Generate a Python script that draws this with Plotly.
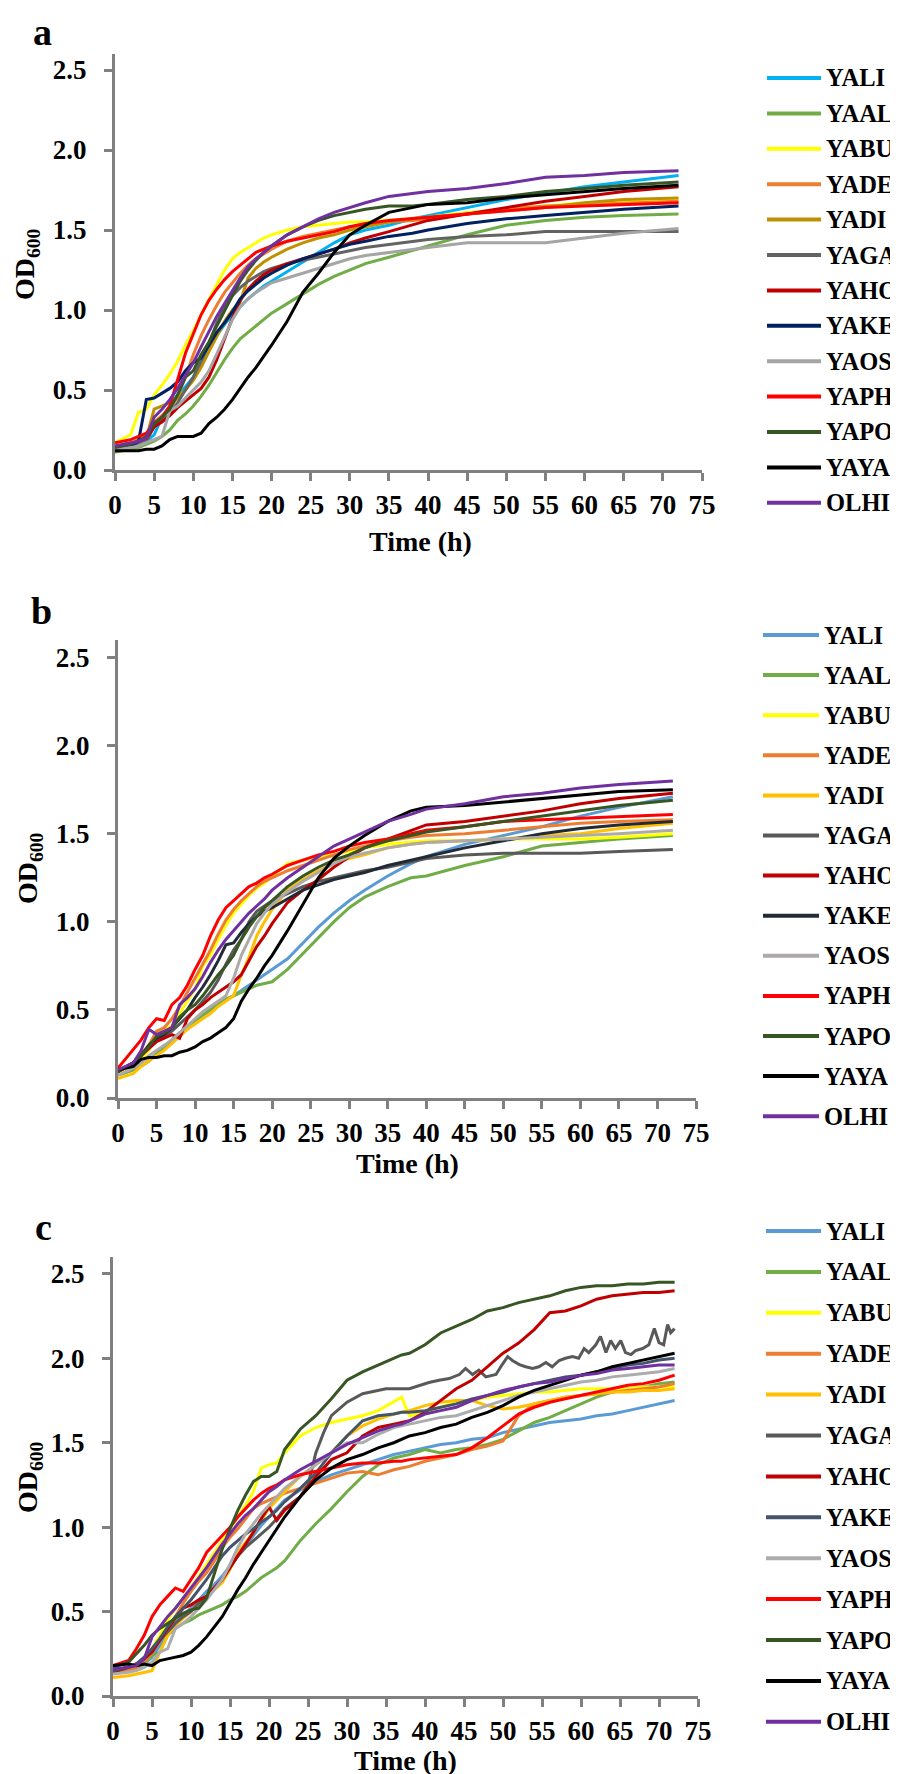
import plotly.graph_objects as go

STRAINS = ["YALI", "YAAL", "YABU", "YADE", "YADI", "YAGA", "YAHO",
           "YAKE", "YAOS", "YAPH", "YAPO", "YAYA", "OLHI"]

COLORS_A = ["#00B0F0", "#70AD47", "#FFFF00", "#ED7D31", "#BF9000", "#636363", "#C00000",
            "#002060", "#A5A5A5", "#FF0000", "#375623", "#000000", "#7030A0"]
COLORS_B = ["#5B9BD5", "#70AD47", "#FFFF00", "#ED7D31", "#FFC000", "#595959", "#C00000",
            "#222A35", "#AEAAAA", "#FF0000", "#375623", "#000000", "#7030A0"]
COLORS_C = ["#5B9BD5", "#70AD47", "#FFFF00", "#ED7D31", "#FFC000", "#595959", "#C00000",
            "#44546A", "#ACACAC", "#FF0000", "#375623", "#000000", "#7030A0"]

X_TICKS = [0, 5, 10, 15, 20, 25, 30, 35, 40, 45, 50, 55, 60, 65, 70, 75]
Y_TICKS = [0.0, 0.5, 1.0, 1.5, 2.0, 2.5]
X_TITLE = "Time (h)"
Y_TITLE = "OD<sub>600</sub>"

# ---------------- panel a ----------------
TA = [0, 2, 3, 4, 5, 6, 7, 8, 9, 10, 11, 12, 13, 14, 15, 16, 17, 18, 19, 20,
      22, 24, 26, 28, 30, 32, 35, 38, 40, 45, 50, 55, 60, 65, 72]
A_YALI = [0.14, 0.15, 0.16, 0.18, 0.22, 0.33, 0.40, 0.47, 0.52, 0.58, 0.67, 0.76, 0.84, 0.91, 0.97, 1.02, 1.07, 1.11, 1.15, 1.18,
          1.24, 1.30, 1.36, 1.42, 1.47, 1.50, 1.53, 1.57, 1.59, 1.64, 1.69, 1.73, 1.77, 1.80, 1.84]
A_YAAL = [0.11, 0.13, 0.14, 0.16, 0.18, 0.21, 0.25, 0.31, 0.35, 0.40, 0.46, 0.53, 0.61, 0.69, 0.76, 0.82, 0.86, 0.90, 0.94, 0.98,
          1.04, 1.10, 1.16, 1.21, 1.25, 1.29, 1.33, 1.37, 1.40, 1.47, 1.53, 1.56, 1.58, 1.59, 1.60]
A_YABU = [0.17, 0.22, 0.36, 0.38, 0.47, 0.53, 0.60, 0.68, 0.78, 0.87, 0.97, 1.07, 1.16, 1.25, 1.32, 1.36, 1.39, 1.42, 1.45, 1.47,
          1.50, 1.52, 1.53, 1.54, 1.55, 1.55, 1.56, 1.57, 1.58, 1.61, 1.63, 1.65, 1.67, 1.68, 1.69]
A_YADE = [0.15, 0.17, 0.19, 0.22, 0.30, 0.34, 0.38, 0.46, 0.58, 0.72, 0.84, 0.94, 1.03, 1.11, 1.17, 1.23, 1.28, 1.32, 1.35, 1.38,
          1.43, 1.46, 1.48, 1.50, 1.52, 1.53, 1.55, 1.56, 1.57, 1.60, 1.63, 1.65, 1.66, 1.67, 1.68]
A_YADI = [0.14, 0.16, 0.18, 0.20, 0.38, 0.40, 0.42, 0.45, 0.50, 0.56, 0.64, 0.74, 0.84, 0.93, 1.00, 1.05, 1.20, 1.26, 1.30, 1.33,
          1.38, 1.42, 1.45, 1.47, 1.50, 1.52, 1.55, 1.57, 1.58, 1.60, 1.62, 1.64, 1.67, 1.69, 1.70]
A_YAGA = [0.14, 0.15, 0.16, 0.18, 0.27, 0.31, 0.35, 0.42, 0.50, 0.58, 0.68, 0.79, 0.92, 1.02, 1.09, 1.14, 1.18, 1.21, 1.24, 1.26,
          1.29, 1.31, 1.33, 1.35, 1.37, 1.39, 1.41, 1.43, 1.44, 1.46, 1.47, 1.49, 1.49, 1.49, 1.49]
A_YAHO = [0.14, 0.16, 0.18, 0.20, 0.27, 0.30, 0.34, 0.39, 0.43, 0.47, 0.51, 0.58, 0.69, 0.82, 0.95, 1.06, 1.13, 1.18, 1.22, 1.25,
          1.29, 1.32, 1.35, 1.38, 1.42, 1.45, 1.49, 1.53, 1.56, 1.60, 1.64, 1.68, 1.71, 1.74, 1.77]
A_YAKE = [0.13, 0.15, 0.18, 0.44, 0.45, 0.48, 0.51, 0.55, 0.62, 0.67, 0.70, 0.78, 0.86, 0.92, 0.99, 1.07, 1.12, 1.16, 1.20, 1.23,
          1.28, 1.32, 1.35, 1.38, 1.41, 1.43, 1.46, 1.48, 1.50, 1.54, 1.57, 1.59, 1.61, 1.63, 1.65]
A_YAOS = [0.13, 0.14, 0.15, 0.17, 0.19, 0.21, 0.37, 0.40, 0.45, 0.50, 0.55, 0.62, 0.72, 0.83, 0.94, 1.02, 1.07, 1.11, 1.14, 1.17,
          1.20, 1.23, 1.26, 1.29, 1.32, 1.34, 1.36, 1.38, 1.39, 1.42, 1.42, 1.42, 1.45, 1.48, 1.51]
A_YAPH = [0.17, 0.19, 0.21, 0.23, 0.29, 0.33, 0.40, 0.56, 0.73, 0.85, 0.97, 1.06, 1.13, 1.19, 1.24, 1.28, 1.32, 1.36, 1.38, 1.40,
          1.43, 1.45, 1.47, 1.49, 1.52, 1.54, 1.56, 1.57, 1.58, 1.60, 1.62, 1.64, 1.65, 1.66, 1.67]
A_YAPO = [0.14, 0.16, 0.18, 0.21, 0.29, 0.33, 0.38, 0.47, 0.58, 0.62, 0.72, 0.80, 0.90, 1.00, 1.09, 1.18, 1.25, 1.31, 1.36, 1.40,
          1.47, 1.52, 1.56, 1.59, 1.61, 1.63, 1.65, 1.65, 1.66, 1.69, 1.71, 1.74, 1.76, 1.78, 1.80]
A_YAYA = [0.12, 0.12, 0.12, 0.13, 0.13, 0.15, 0.19, 0.21, 0.21, 0.21, 0.23, 0.29, 0.33, 0.38, 0.44, 0.51, 0.58, 0.64, 0.71, 0.78,
          0.93, 1.11, 1.23, 1.36, 1.47, 1.53, 1.61, 1.64, 1.66, 1.67, 1.70, 1.72, 1.74, 1.76, 1.78]
A_OLHI = [0.15, 0.17, 0.18, 0.20, 0.33, 0.38, 0.44, 0.51, 0.59, 0.67, 0.77, 0.87, 0.96, 1.04, 1.12, 1.20, 1.27, 1.32, 1.36, 1.40,
          1.47, 1.52, 1.57, 1.61, 1.64, 1.67, 1.71, 1.73, 1.74, 1.76, 1.79, 1.83, 1.84, 1.86, 1.87]

# ---------------- panel b ----------------
TB = [0, 2, 3, 4, 5, 6, 7, 8, 9, 10, 11, 12, 13, 14, 15, 16, 17, 18, 19, 20,
      22, 24, 26, 28, 30, 32, 35, 38, 40, 45, 50, 55, 60, 65, 72]
B_YALI = [0.13, 0.16, 0.18, 0.21, 0.25, 0.29, 0.33, 0.37, 0.40, 0.44, 0.47, 0.50, 0.53, 0.56, 0.58, 0.61, 0.64, 0.67, 0.70, 0.73,
          0.79, 0.88, 0.97, 1.05, 1.12, 1.18, 1.26, 1.33, 1.37, 1.44, 1.49, 1.54, 1.60, 1.65, 1.71]
B_YAAL = [0.13, 0.16, 0.18, 0.21, 0.25, 0.29, 0.33, 0.37, 0.40, 0.44, 0.47, 0.50, 0.53, 0.56, 0.58, 0.60, 0.62, 0.64, 0.65, 0.66,
          0.73, 0.82, 0.91, 1.00, 1.08, 1.14, 1.20, 1.25, 1.26, 1.32, 1.37, 1.43, 1.45, 1.47, 1.49]
B_YABU = [0.14, 0.18, 0.22, 0.27, 0.37, 0.39, 0.41, 0.48, 0.55, 0.62, 0.75, 0.81, 0.90, 0.98, 1.05, 1.10, 1.15, 1.19, 1.22, 1.26,
          1.33, 1.35, 1.37, 1.38, 1.40, 1.42, 1.44, 1.45, 1.46, 1.46, 1.47, 1.47, 1.47, 1.48, 1.50]
B_YADE = [0.15, 0.20, 0.25, 0.30, 0.38, 0.40, 0.45, 0.52, 0.60, 0.68, 0.76, 0.84, 0.93, 1.01, 1.07, 1.12, 1.16, 1.20, 1.23, 1.25,
          1.29, 1.32, 1.35, 1.38, 1.41, 1.43, 1.46, 1.48, 1.49, 1.50, 1.52, 1.54, 1.56, 1.57, 1.58]
B_YADI = [0.11, 0.14, 0.18, 0.21, 0.24, 0.27, 0.31, 0.35, 0.39, 0.42, 0.45, 0.48, 0.52, 0.55, 0.58, 0.70, 0.80, 0.92, 1.00, 1.07,
          1.18, 1.24, 1.29, 1.33, 1.36, 1.38, 1.42, 1.44, 1.45, 1.46, 1.47, 1.49, 1.50, 1.53, 1.56]
B_YAGA = [0.15, 0.20, 0.24, 0.29, 0.33, 0.35, 0.38, 0.42, 0.46, 0.50, 0.55, 0.60, 0.67, 0.76, 0.84, 0.90, 1.00, 1.06, 1.09, 1.12,
          1.16, 1.20, 1.23, 1.25, 1.27, 1.29, 1.31, 1.34, 1.36, 1.38, 1.39, 1.39, 1.39, 1.40, 1.41]
B_YAHO = [0.15, 0.20, 0.24, 0.28, 0.32, 0.34, 0.36, 0.34, 0.45, 0.50, 0.53, 0.57, 0.60, 0.63, 0.66, 0.70, 0.78, 0.86, 0.92, 0.99,
          1.11, 1.18, 1.24, 1.31, 1.37, 1.42, 1.47, 1.52, 1.55, 1.57, 1.60, 1.63, 1.67, 1.70, 1.73]
B_YAKE = [0.15, 0.20, 0.24, 0.30, 0.34, 0.36, 0.40, 0.45, 0.50, 0.57, 0.63, 0.70, 0.78, 0.87, 0.88, 0.94, 0.99, 1.03, 1.06, 1.08,
          1.13, 1.18, 1.21, 1.24, 1.26, 1.28, 1.32, 1.35, 1.37, 1.42, 1.46, 1.50, 1.53, 1.55, 1.57]
B_YAOS = [0.13, 0.17, 0.20, 0.24, 0.27, 0.30, 0.33, 0.37, 0.41, 0.45, 0.49, 0.52, 0.55, 0.58, 0.68, 0.81, 0.90, 0.99, 1.05, 1.10,
          1.17, 1.23, 1.28, 1.33, 1.37, 1.39, 1.42, 1.44, 1.45, 1.46, 1.47, 1.48, 1.49, 1.50, 1.52]
B_YAPH = [0.17, 0.28, 0.33, 0.40, 0.45, 0.44, 0.53, 0.57, 0.64, 0.73, 0.81, 0.92, 1.01, 1.08, 1.12, 1.16, 1.20, 1.22, 1.25, 1.27,
          1.32, 1.35, 1.38, 1.40, 1.43, 1.45, 1.47, 1.50, 1.52, 1.54, 1.57, 1.58, 1.59, 1.60, 1.61]
B_YAPO = [0.15, 0.20, 0.24, 0.29, 0.35, 0.37, 0.40, 0.46, 0.50, 0.53, 0.58, 0.64, 0.70, 0.75, 0.81, 0.90, 0.97, 1.03, 1.08, 1.12,
          1.20, 1.26, 1.31, 1.35, 1.38, 1.42, 1.46, 1.49, 1.51, 1.54, 1.57, 1.60, 1.63, 1.66, 1.69]
B_YAYA = [0.16, 0.18, 0.22, 0.23, 0.23, 0.24, 0.24, 0.26, 0.27, 0.29, 0.32, 0.34, 0.37, 0.40, 0.45, 0.55, 0.62, 0.68, 0.75, 0.81,
          0.95, 1.10, 1.25, 1.36, 1.43, 1.49, 1.57, 1.63, 1.65, 1.66, 1.68, 1.70, 1.72, 1.74, 1.75]
B_OLHI = [0.16, 0.20, 0.27, 0.39, 0.36, 0.38, 0.40, 0.53, 0.57, 0.62, 0.69, 0.77, 0.84, 0.90, 0.95, 1.00, 1.05, 1.09, 1.13, 1.18,
          1.25, 1.31, 1.37, 1.43, 1.47, 1.51, 1.57, 1.61, 1.64, 1.67, 1.71, 1.73, 1.76, 1.78, 1.80]

# ---------------- panel c ----------------
TC = [0, 2, 3, 4, 5, 6, 7, 8, 9, 10, 11, 12, 13, 14, 15, 16, 17, 18, 19, 20, 21, 22, 24, 26, 28, 30, 32, 34,
      36, 37, 38, 40, 42, 44, 46, 48, 50, 52, 54, 56, 58, 60, 62, 64, 66, 68, 70, 72]
C_YALI = [0.14, 0.15, 0.17, 0.19, 0.23, 0.30, 0.38, 0.43, 0.48, 0.52, 0.57, 0.62, 0.66, 0.71, 0.77, 0.83, 0.89, 0.95, 1.01, 1.06,
          1.11, 1.16, 1.22, 1.27, 1.31, 1.34, 1.37, 1.40, 1.43, 1.44, 1.45, 1.47, 1.49, 1.50, 1.52, 1.53, 1.56, 1.58, 1.60, 1.62,
          1.63, 1.64, 1.66, 1.67, 1.69, 1.71, 1.73, 1.75]
C_YAAL = [0.14, 0.15, 0.17, 0.19, 0.24, 0.26, 0.36, 0.40, 0.43, 0.45, 0.48, 0.50, 0.52, 0.54, 0.57, 0.59, 0.62, 0.66, 0.70, 0.73,
          0.76, 0.80, 0.92, 1.02, 1.11, 1.21, 1.30, 1.37, 1.41, 1.42, 1.43, 1.46, 1.44, 1.46, 1.47, 1.49, 1.52, 1.57, 1.62, 1.65,
          1.69, 1.73, 1.77, 1.80, 1.82, 1.83, 1.85, 1.86]
C_YABU = [0.14, 0.15, 0.17, 0.22, 0.28, 0.36, 0.45, 0.52, 0.58, 0.64, 0.71, 0.78, 0.85, 0.92, 0.99, 1.06, 1.13, 1.21, 1.35, 1.37,
          1.38, 1.44, 1.54, 1.59, 1.62, 1.64, 1.66, 1.69, 1.74, 1.77, 1.66, 1.68, 1.71, 1.74, 1.75, 1.77, 1.78, 1.79, 1.80, 1.80,
          1.81, 1.82, 1.82, 1.82, 1.82, 1.83, 1.83, 1.83]
C_YADE = [0.14, 0.15, 0.17, 0.20, 0.26, 0.33, 0.40, 0.47, 0.55, 0.62, 0.68, 0.73, 0.80, 0.88, 0.94, 0.99, 1.05, 1.11, 1.14, 1.16,
          1.18, 1.20, 1.23, 1.26, 1.29, 1.32, 1.33, 1.31, 1.34, 1.35, 1.36, 1.39, 1.41, 1.43, 1.46, 1.48, 1.51, 1.66, 1.73, 1.75,
          1.77, 1.78, 1.79, 1.80, 1.81, 1.82, 1.83, 1.85]
C_YADI = [0.11, 0.12, 0.13, 0.14, 0.15, 0.26, 0.36, 0.42, 0.46, 0.50, 0.55, 0.59, 0.63, 0.67, 0.75, 0.85, 0.91, 0.97, 1.04, 1.11,
          1.16, 1.21, 1.30, 1.37, 1.44, 1.54, 1.60, 1.64, 1.67, 1.68, 1.69, 1.72, 1.74, 1.75, 1.75, 1.72, 1.70, 1.71, 1.73, 1.75,
          1.77, 1.78, 1.79, 1.80, 1.80, 1.81, 1.81, 1.82]
C_YAHO = [0.14, 0.17, 0.19, 0.22, 0.26, 0.33, 0.40, 0.46, 0.52, 0.54, 0.57, 0.59, 0.64, 0.69, 0.76, 0.83, 0.90, 0.97, 1.05, 1.12,
          1.04, 1.10, 1.18, 1.30, 1.40, 1.44, 1.54, 1.59, 1.61, 1.62, 1.63, 1.68, 1.75, 1.82, 1.87, 1.95, 2.03, 2.09, 2.17, 2.27,
          2.28, 2.31, 2.35, 2.37, 2.38, 2.39, 2.39, 2.40]
C_YAKE = [0.15, 0.17, 0.19, 0.23, 0.28, 0.34, 0.41, 0.47, 0.52, 0.57, 0.63, 0.69, 0.76, 0.83, 0.88, 0.92, 0.96, 0.99, 1.03, 1.06,
          1.10, 1.15, 1.23, 1.32, 1.44, 1.54, 1.63, 1.66, 1.67, 1.68, 1.68, 1.69, 1.71, 1.73, 1.76, 1.78, 1.80, 1.83, 1.85, 1.87,
          1.89, 1.90, 1.92, 1.94, 1.96, 1.97, 1.99, 2.00]
C_YAOS = [0.13, 0.14, 0.15, 0.17, 0.20, 0.26, 0.28, 0.40, 0.43, 0.47, 0.52, 0.57, 0.63, 0.69, 0.78, 0.88, 0.96, 1.02, 1.08, 1.13,
          1.18, 1.23, 1.30, 1.37, 1.44, 1.50, 1.50, 1.55, 1.59, 1.60, 1.61, 1.63, 1.65, 1.66, 1.69, 1.72, 1.75, 1.78, 1.80, 1.82,
          1.84, 1.86, 1.87, 1.89, 1.90, 1.91, 1.92, 1.94]
C_YAPH = [0.18, 0.21, 0.28, 0.36, 0.47, 0.54, 0.59, 0.64, 0.62, 0.69, 0.76, 0.85, 0.90, 0.95, 1.00, 1.06, 1.11, 1.16, 1.20, 1.23,
          1.25, 1.28, 1.31, 1.33, 1.35, 1.37, 1.38, 1.38, 1.39, 1.39, 1.40, 1.41, 1.42, 1.43, 1.47, 1.53, 1.60, 1.67, 1.71, 1.74,
          1.76, 1.78, 1.80, 1.82, 1.84, 1.85, 1.87, 1.90]
C_YAPO = [0.17, 0.20, 0.25, 0.30, 0.36, 0.40, 0.43, 0.46, 0.49, 0.51, 0.52, 0.58, 0.72, 0.87, 0.99, 1.10, 1.19, 1.27, 1.30, 1.30,
          1.33, 1.46, 1.58, 1.66, 1.76, 1.87, 1.92, 1.96, 2.00, 2.02, 2.03, 2.08, 2.15, 2.19, 2.23, 2.28, 2.30, 2.33, 2.35, 2.37,
          2.40, 2.42, 2.43, 2.43, 2.44, 2.44, 2.45, 2.45]
C_YAYA = [0.18, 0.19, 0.18, 0.19, 0.18, 0.21, 0.22, 0.23, 0.24, 0.26, 0.30, 0.35, 0.41, 0.47, 0.55, 0.63, 0.70, 0.78, 0.85, 0.92,
          0.99, 1.06, 1.18, 1.28, 1.35, 1.40, 1.43, 1.47, 1.50, 1.52, 1.54, 1.56, 1.59, 1.61, 1.65, 1.68, 1.72, 1.77, 1.81, 1.84,
          1.87, 1.90, 1.92, 1.95, 1.97, 1.99, 2.01, 2.03]
C_OLHI = [0.16, 0.17, 0.18, 0.22, 0.35, 0.41, 0.47, 0.52, 0.58, 0.64, 0.70, 0.76, 0.83, 0.90, 0.96, 1.02, 1.07, 1.11, 1.16, 1.21,
          1.24, 1.28, 1.34, 1.39, 1.44, 1.49, 1.53, 1.57, 1.60, 1.61, 1.63, 1.67, 1.69, 1.71, 1.75, 1.78, 1.81, 1.83, 1.85, 1.86,
          1.88, 1.90, 1.91, 1.93, 1.94, 1.95, 1.96, 1.96]
# YAGA in panel c is noisy: own time points
TC_YAGA = [0, 2, 3, 4, 5, 6, 7, 8, 9, 10, 11, 12, 13, 14, 15, 16, 17, 18, 19, 20, 21, 22, 24, 25, 26, 27, 28, 30, 32, 35, 38,
           40.5, 41.8, 43.1, 44.4, 45.2, 46.1, 46.9, 47.8, 49.1, 49.9, 50.6, 51.2, 52.1, 52.9, 53.8, 54.6, 55.5, 56.3, 57.2,
           58, 58.9, 59.7, 60.4, 61, 61.9, 62.5, 63.2, 63.8, 64.4, 65.1, 65.7, 66.4, 67, 67.9, 68.7, 69.4, 70, 70.6, 71.1,
           71.5, 72]
C_YAGA = [0.15, 0.17, 0.19, 0.22, 0.28, 0.33, 0.38, 0.43, 0.47, 0.50, 0.55, 0.59, 0.64, 0.69, 0.76, 0.83, 0.88, 0.92, 0.96, 1.00,
          1.05, 1.11, 1.18, 1.25, 1.44, 1.56, 1.66, 1.74, 1.79, 1.82, 1.82,
          1.857, 1.87, 1.88, 1.904, 1.94, 1.904, 1.93, 1.89, 1.904, 1.963, 2.01, 1.987, 1.963, 1.95, 1.94, 1.95, 1.975, 1.95,
          1.987, 2.0, 2.01, 2.0, 2.058, 2.034, 2.08, 2.13, 2.034, 2.105, 2.058, 2.105, 2.034, 2.022, 2.046, 2.058, 2.08,
          2.176, 2.093, 2.08, 2.2, 2.152, 2.176]

PANEL_A = [A_YALI, A_YAAL, A_YABU, A_YADE, A_YADI, A_YAGA, A_YAHO, A_YAKE, A_YAOS, A_YAPH, A_YAPO, A_YAYA, A_OLHI]
PANEL_B = [B_YALI, B_YAAL, B_YABU, B_YADE, B_YADI, B_YAGA, B_YAHO, B_YAKE, B_YAOS, B_YAPH, B_YAPO, B_YAYA, B_OLHI]
PANEL_C = [C_YALI, C_YAAL, C_YABU, C_YADE, C_YADI, C_YAGA, C_YAHO, C_YAKE, C_YAOS, C_YAPH, C_YAPO, C_YAYA, C_OLHI]
TIMES_A = [TA] * 13
TIMES_B = [TB] * 13
TIMES_C = [TC] * 13
TIMES_C[5] = TC_YAGA

for times, panel, name in [(TIMES_A, PANEL_A, "a"), (TIMES_B, PANEL_B, "b"), (TIMES_C, PANEL_C, "c")]:
    for i, (t, v) in enumerate(zip(times, panel)):
        if len(t) != len(v):
            raise ValueError(f"panel {name} {STRAINS[i]}: {len(t)} times vs {len(v)} values")

# ---------------- layout geometry (pixels) ----------------
W, H = 898, 1774
FONT = "Liberation Serif"

GEOM = {  # x_left, x_right, y_zero, y_top (range 0..2.6)
    "a": (107, 694, 462, 46),
    "b": (110, 688, 1090, 632),
    "c": (105, 690, 1688, 1249),
}
LEGEND = {  # line x0, line x1, text x, first row y, row step
    "a": (759, 813, 818, 70, 35.4),
    "b": (755, 811, 816, 627, 40.1),
    "c": (758, 813, 818, 1223, 40.9),
}
LABEL_POS = {"a": (34, 24), "b": (33, 603), "c": (35, 1219)}
XTITLE_POS = {"a": (412, 533), "b": (399, 1155), "c": (397, 1752)}
YTITLE_POS = {"a": (18, 256), "b": (21, 860), "c": (21, 1469)}


def px(x):
    return x / W


def py(y):
    return 1 - y / H


fig = go.Figure()
panels = [("a", PANEL_A, TIMES_A, COLORS_A, ""),
          ("b", PANEL_B, TIMES_B, COLORS_B, "2"),
          ("c", PANEL_C, TIMES_C, COLORS_C, "3")]

for key, data, times, colors, sfx in panels:
    for i, name in enumerate(STRAINS):
        fig.add_trace(go.Scatter(
            x=times[i], y=data[i], mode="lines", name=name,
            line=dict(color=colors[i], width=3),
            xaxis="x" + sfx, yaxis="y" + sfx,
            showlegend=False, hoverinfo="skip",
        ))

tickfont = dict(family=FONT, size=27, color="black", weight="bold")
titlefont = dict(family=FONT, size=28, color="black", weight="bold")
legfont = dict(family=FONT, size=24.5, color="black", weight="bold")
labelfont = dict(family=FONT, size=38, color="black", weight="bold")

layout = dict(
    width=W, height=H,
    margin=dict(l=0, r=0, t=0, b=0),
    paper_bgcolor="white", plot_bgcolor="white",
    showlegend=False,
)
annotations = []
shapes = []
for key, data, times, colors, sfx in panels:
    xl, xr, y0, yt = GEOM[key]
    layout["xaxis" + sfx] = dict(
        domain=[px(xl), px(xr)], range=[0, 75], anchor="y" + sfx,
        tickmode="array", tickvals=X_TICKS,
        showline=True, linecolor="#808080", linewidth=3,
        ticks="outside", ticklen=8, tickwidth=3, tickcolor="#808080",
        showgrid=False, zeroline=False, tickfont=tickfont,
        ticklabelstandoff=1, automargin=False,
    )
    layout["yaxis" + sfx] = dict(
        domain=[py(y0), py(yt)], range=[0, 2.6], anchor="x" + sfx,
        tickmode="array", tickvals=Y_TICKS, tickformat=".1f",
        showline=True, linecolor="#808080", linewidth=3,
        ticks="outside", ticklen=8, tickwidth=3, tickcolor="#808080",
        showgrid=False, zeroline=False, tickfont=tickfont,
        ticklabelstandoff=12, automargin=False,
    )
    # panel letter
    lx, ly = LABEL_POS[key]
    annotations.append(dict(text=key, x=px(lx), y=py(ly), xref="paper", yref="paper",
                            xanchor="center", yanchor="middle", showarrow=False, font=labelfont))
    # axis titles
    tx, ty = XTITLE_POS[key]
    annotations.append(dict(text=X_TITLE, x=px(tx), y=py(ty), xref="paper", yref="paper",
                            xanchor="center", yanchor="middle", showarrow=False, font=titlefont))
    tx, ty = YTITLE_POS[key]
    annotations.append(dict(text=Y_TITLE, x=px(tx), y=py(ty), xref="paper", yref="paper",
                            xanchor="center", yanchor="middle", showarrow=False, font=titlefont,
                            textangle=-90))
    # legend
    lx0, lx1, ltx, ly0, lstep = LEGEND[key]
    for i, name in enumerate(STRAINS):
        yy = ly0 + i * lstep
        shapes.append(dict(type="line", xref="paper", yref="paper",
                           x0=px(lx0), x1=px(lx1), y0=py(yy), y1=py(yy),
                           line=dict(color=colors[i], width=4)))
        annotations.append(dict(text=name, x=px(ltx), y=py(yy), xref="paper", yref="paper",
                                xanchor="left", yanchor="middle", showarrow=False,
                                borderpad=0, borderwidth=0, font=legfont))

layout["annotations"] = annotations
layout["shapes"] = shapes
fig.update_layout(**layout)

fig.write_html("out.html")
